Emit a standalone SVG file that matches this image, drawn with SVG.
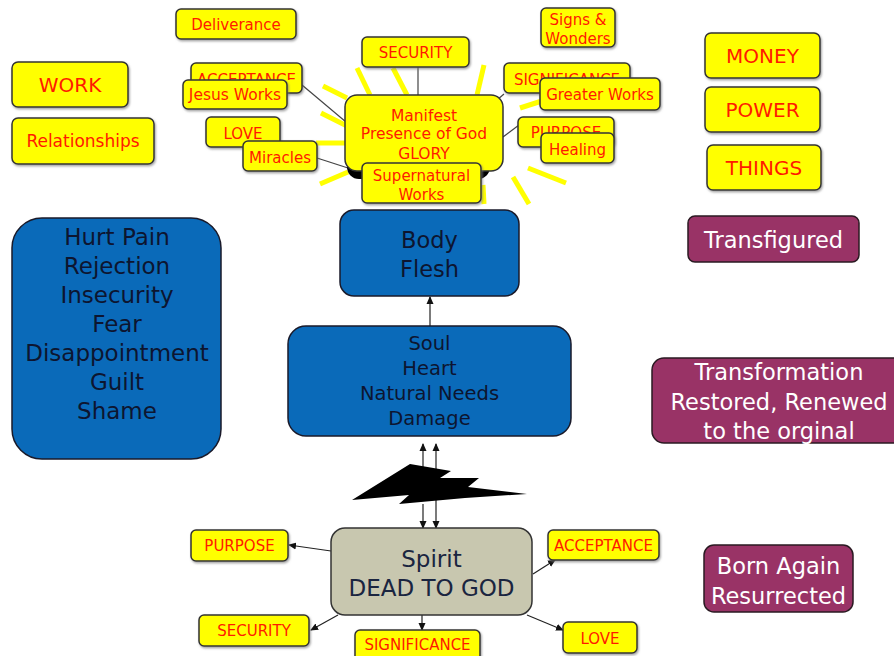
<svg xmlns="http://www.w3.org/2000/svg" width="894" height="656" viewBox="0 0 894 656">
<style>
text{font-family:"DejaVu Sans","Verdana",sans-serif;text-anchor:middle}
.y{fill:#ffff00;stroke:#333;stroke-width:1.5}
.yt{fill:#ff1a00;font-size:15px}
.b{fill:#0a6ab9;stroke:#1a1a2a;stroke-width:1.5}
.bt{fill:#0d1530}
.m{fill:#993366;stroke:#2a1a22;stroke-width:1.5}
.mt{fill:#ffffff;font-size:22.5px}
.ray{stroke:#ffff00;stroke-width:5;stroke-linecap:butt}
.c{stroke:#444;stroke-width:1.2;fill:none}
.a{stroke:#222;stroke-width:1.2;fill:none;marker-end:url(#ah)}
</style>
<defs>
<marker id="ah" markerWidth="8" markerHeight="8" refX="7" refY="4" orient="auto-start-reverse" markerUnits="userSpaceOnUse">
<path d="M0,0.5 L8,4 L0,7.5 z" fill="#111"/>
</marker>
<filter id="sh" x="-10%" y="-10%" width="130%" height="140%">
<feDropShadow dx="1" dy="1.5" stdDeviation="0.8" flood-color="#777" flood-opacity="0.7"/>
</filter>
<clipPath id="clipAcc"><rect x="185" y="60" width="120" height="20"/></clipPath>
</defs>

<g id="rays">
<line class="ray" x1="323" y1="86" x2="347" y2="98"/>
<line class="ray" x1="321" y1="113" x2="347" y2="126"/>
<line class="ray" x1="316" y1="143" x2="347" y2="143"/>
<line class="ray" x1="320" y1="184" x2="348" y2="172"/>
<line class="ray" x1="357" y1="68" x2="370" y2="95"/>
<line class="ray" x1="393" y1="68" x2="407" y2="95"/>
<line class="ray" x1="484" y1="65" x2="477" y2="95"/>
<line class="ray" x1="520" y1="108" x2="545" y2="100"/>
<line class="ray" x1="528" y1="168" x2="566" y2="183"/>
<line class="ray" x1="513" y1="177" x2="529" y2="204"/>
<line class="ray" x1="483" y1="185" x2="484" y2="204"/>
</g>

<g id="connectors">
<line class="c" x1="418" y1="67" x2="418" y2="96"/>
<line class="c" x1="302" y1="85" x2="346" y2="122"/>
<line class="c" x1="317" y1="158" x2="348" y2="168"/>
<line class="c" x1="504" y1="94" x2="497" y2="100"/>
<line class="c" x1="519" y1="125" x2="503" y2="137"/>
<line class="a" x1="430" y1="326" x2="430" y2="297"/>
<line class="a" x1="423" y1="468" x2="423" y2="444" stroke="#666"/>
<line class="a" x1="423" y1="504" x2="423" y2="528"/>
<line class="a" x1="436" y1="528" x2="436" y2="444" style="marker-start:url(#ah)"/>
<line class="a" x1="331" y1="551" x2="289" y2="545"/>
<line class="a" x1="533" y1="574" x2="555" y2="560"/>
<line class="a" x1="338" y1="615" x2="311" y2="630"/>
<line class="a" x1="422" y1="615" x2="422" y2="630"/>
<line class="a" x1="527" y1="615" x2="563" y2="630"/>
</g>

<g id="bolt">
<polygon points="352,500 410,464 451,471 440,478 479,478 468,487 527,494 465,498 399,504 409,495" fill="#000"/>
</g>

<g id="deliverance"><rect class="y" x="176" y="9" width="120" height="30" rx="5" filter="url(#sh)"/><text class="yt" x="236" y="29.5">Deliverance</text></g>
<g id="security-top"><rect class="y" x="362" y="37" width="107" height="30" rx="5" filter="url(#sh)"/><text class="yt" x="415.5" y="57.5">SECURITY</text></g>
<g id="signs"><rect class="y" x="541" y="8" width="74" height="39" rx="5" filter="url(#sh)"/><text class="yt" x="578" y="24.5">Signs &amp;</text><text class="yt" x="578" y="43.5">Wonders</text></g>
<g id="acceptance-top"><rect class="y" x="191" y="63" width="111" height="30" rx="5" filter="url(#sh)"/><text class="yt" x="246.5" y="84.5" clip-path="url(#clipAcc)">ACCEPTANCE</text></g>
<g id="jesus-works"><rect class="y" x="183" y="80" width="104" height="29" rx="5" filter="url(#sh)"/><text class="yt" x="235" y="100" style="font-size:15.5px">Jesus Works</text></g>
<g id="love-top"><rect class="y" x="206" y="117" width="74" height="30" rx="5" filter="url(#sh)"/><text class="yt" x="243" y="138.5">LOVE</text></g>
<g id="miracles"><rect class="y" x="243" y="141" width="74" height="30" rx="5" filter="url(#sh)"/><text class="yt" x="280" y="162.5">Miracles</text></g>
<g id="significance-top"><rect class="y" x="504" y="63" width="126" height="30" rx="5" filter="url(#sh)"/><text class="yt" x="567" y="84.5">SIGNIFICANCE</text></g>
<g id="greater-works"><rect class="y" x="540" y="78" width="120" height="32" rx="5" filter="url(#sh)"/><text class="yt" x="600" y="100">Greater Works</text></g>
<g id="purpose-top"><rect class="y" x="518" y="117" width="96" height="30" rx="5" filter="url(#sh)"/><text class="yt" x="566" y="137.5">PURPOSE</text></g>
<g id="healing"><rect class="y" x="541" y="133" width="73" height="30" rx="5" filter="url(#sh)"/><text class="yt" x="577.5" y="154.5">Healing</text></g>

<g id="manifest">
<rect x="347" y="110" width="143" height="69" rx="12" fill="#000"/>
<rect class="y" x="345" y="95" width="158" height="76" rx="12"/>
<text class="yt" x="424" y="120.5" style="font-size:15.5px">Manifest</text>
<text class="yt" x="424" y="139" style="font-size:15.5px">Presence of God</text>
<text class="yt" x="424" y="159" style="font-size:15.5px">GLORY</text>
</g>
<g id="supernatural"><rect class="y" x="362" y="163" width="119" height="40" rx="5" filter="url(#sh)"/><text class="yt" x="421.5" y="180.5">Supernatural</text><text class="yt" x="421.5" y="199.5">Works</text></g>

<g id="work"><rect class="y" x="12" y="62" width="116" height="45" rx="6" filter="url(#sh)"/><text class="yt" x="70" y="92" style="font-size:20px">WORK</text></g>
<g id="relationships"><rect class="y" x="12" y="118" width="142" height="46" rx="6" filter="url(#sh)"/><text class="yt" x="83" y="147" style="font-size:17px">Relationships</text></g>
<g id="money"><rect class="y" x="705" y="33" width="115" height="45" rx="6" filter="url(#sh)"/><text class="yt" x="762.5" y="63" style="font-size:20px">MONEY</text></g>
<g id="power"><rect class="y" x="705" y="87" width="115" height="45" rx="6" filter="url(#sh)"/><text class="yt" x="762.5" y="117" style="font-size:20px">POWER</text></g>
<g id="things"><rect class="y" x="707" y="145" width="114" height="45" rx="6" filter="url(#sh)"/><text class="yt" x="764" y="175" style="font-size:20px">THINGS</text></g>

<g id="hurt">
<rect class="b" x="12" y="218" width="209" height="241" rx="30"/>
<g class="bt" style="font-size:23px">
<text x="117" y="245">Hurt Pain</text>
<text x="117" y="274">Rejection</text>
<text x="117" y="303">Insecurity</text>
<text x="117" y="332">Fear</text>
<text x="117" y="361">Disappointment</text>
<text x="117" y="390">Guilt</text>
<text x="117" y="419">Shame</text>
</g>
</g>

<g id="body">
<rect class="b" x="340" y="210" width="179" height="86" rx="14"/>
<text class="bt" x="429.5" y="248" style="font-size:22.5px">Body</text>
<text class="bt" x="429.5" y="277" style="font-size:22.5px">Flesh</text>
</g>
<g id="soul">
<rect class="b" x="288" y="326" width="283" height="110" rx="18"/>
<g class="bt" style="font-size:19.5px">
<text x="429.5" y="350">Soul</text>
<text x="429.5" y="375">Heart</text>
<text x="429.5" y="400">Natural Needs</text>
<text x="429.5" y="425">Damage</text>
</g>
</g>

<g id="spirit">
<rect x="331" y="528" width="201" height="87" rx="14" fill="#c8c7af" stroke="#333" stroke-width="1.5"/>
<text x="431.5" y="567" fill="#1a2540" style="font-size:23px">Spirit</text>
<text x="431.5" y="596" fill="#1a2540" style="font-size:23px">DEAD TO GOD</text>
</g>

<g id="purpose-b"><rect class="y" x="191" y="530" width="97" height="31" rx="5" filter="url(#sh)"/><text class="yt" x="239.5" y="551">PURPOSE</text></g>
<g id="acceptance-b"><rect class="y" x="548" y="530" width="111" height="30" rx="5" filter="url(#sh)"/><text class="yt" x="603.5" y="551">ACCEPTANCE</text></g>
<g id="security-b"><rect class="y" x="199" y="615" width="110" height="31" rx="5" filter="url(#sh)"/><text class="yt" x="254" y="636">SECURITY</text></g>
<g id="significance-b"><rect class="y" x="355" y="630" width="125" height="32" rx="5" filter="url(#sh)"/><text class="yt" x="417.5" y="650">SIGNIFICANCE</text></g>
<g id="love-b"><rect class="y" x="563" y="622" width="74" height="31" rx="5" filter="url(#sh)"/><text class="yt" x="600" y="644">LOVE</text></g>

<g id="transfigured"><rect class="m" x="688" y="216" width="171" height="46" rx="7"/><text class="mt" x="773.5" y="248">Transfigured</text></g>
<g id="transformation"><rect class="m" x="652" y="358" width="254" height="85" rx="12"/>
<text class="mt" x="779" y="380">Transformation</text>
<text class="mt" x="779" y="410">Restored, Renewed</text>
<text class="mt" x="779" y="439">to the orginal</text></g>
<g id="born-again"><rect class="m" x="704" y="545" width="149" height="67" rx="10"/>
<text class="mt" x="778.5" y="574">Born Again</text>
<text class="mt" x="778.5" y="604">Resurrected</text></g>
</svg>
